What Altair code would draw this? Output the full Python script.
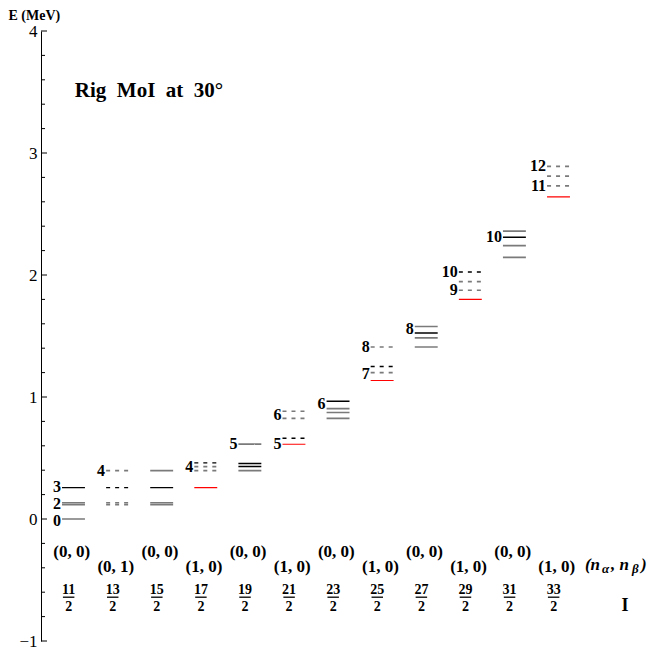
import altair as alt
import pandas as pd

# ---------------- data ----------------
spin_num = [11, 13, 15, 17, 19, 21, 23, 25, 27, 29, 31, 33]
n_labels = ["(0, 0)", "(0, 1)", "(0, 0)", "(1, 0)", "(0, 0)", "(1, 0)",
            "(0, 0)", "(1, 0)", "(0, 0)", "(1, 0)", "(0, 0)", "(1, 0)"]

# energy levels (MeV) per column and their colour kind
level_E = [
    [0.0, 0.118, 0.133, 0.257],
    [0.118, 0.133, 0.257, 0.397],
    [0.118, 0.133, 0.257, 0.397],
    [0.257, 0.397, 0.43, 0.46],
    [0.397, 0.43, 0.455, 0.613],
    [0.613, 0.662, 0.824, 0.883],
    [0.824, 0.873, 0.905, 0.965],
    [1.135, 1.20, 1.25, 1.41],
    [1.41, 1.485, 1.525, 1.578],
    [1.80, 1.875, 1.945, 2.025],
    [2.145, 2.24, 2.31, 2.36],
    [2.64, 2.73, 2.81, 2.89],
]
level_kind = [
    ["gray", "gray", "gray", "black"],
    ["gray", "gray", "black", "gray"],
    ["gray", "gray", "black", "gray"],
    ["red", "gray", "gray", "black"],
    ["gray", "black", "black", "gray"],
    ["red", "black", "gray", "gray"],
    ["gray", "gray", "gray", "black"],
    ["red", "gray", "black", "gray"],
    ["gray", "gray", "black", "gray"],
    ["red", "gray", "gray", "black"],
    ["gray", "gray", "black", "gray"],
    ["red", "gray", "gray", "gray"],
]

# level labels: (column, energy, text)
lab_col = [1, 1, 1, 2, 4, 5, 6, 6, 7, 8, 8, 9, 10, 10, 11, 12, 12]
lab_E = [-0.015, 0.12, 0.262, 0.39, 0.43, 0.613, 0.613, 0.85, 0.94, 1.19, 1.41,
         1.56, 1.875, 2.025, 2.31, 2.73, 2.89]
lab_txt = ["0", "2", "3", "4", "4", "5", "5", "6", "6", "7", "8", "8", "9", "10",
           "10", "11", "12"]

y_major = [-1, 0, 1, 2, 3, 4]
y_minor = [round(-1 + 0.2 * k, 1) for k in range(26) if k % 5 != 0]

FONT = "Liberation Serif"
HALF = 0.26  # half width of a level line in column units

# ---------------- tables ----------------
rows = []
order = {"gray": 0, "black": 1, "red": 2}
for i, (Es, ks) in enumerate(zip(level_E, level_kind), start=1):
    band = n_labels[i - 1]
    for E, k in zip(Es, ks):
        style = "solid" if (band == "(0, 0)" or k == "red") else "dashed"
        rows.append({"x": i - HALF, "x2": i + HALF, "E": E, "kind": k,
                     "style": style, "o": order[k]})
levels = pd.DataFrame(rows).sort_values("o", kind="stable")

labels = pd.DataFrame({"x": [c - HALF for c in lab_col], "E": lab_E, "t": lab_txt})

cols = list(range(1, 13))
nlab = pd.DataFrame({"x": [c - 0.04 for c in cols],
                     "E": [-0.27 if n == "(0, 0)" else -0.39 for n in n_labels],
                     "t": n_labels})
num = pd.DataFrame({"x": [c - 0.11 for c in cols], "E": [-0.585] * 12,
                    "t": [str(s) for s in spin_num]})
den = pd.DataFrame({"x": [c - 0.11 for c in cols], "E": [-0.722] * 12,
                    "t": ["2"] * 12})
bars = pd.DataFrame({"x": [c - 0.24 for c in cols], "x2": [c + 0.02 for c in cols],
                     "E": [-0.641] * 12})

ticks_major = pd.DataFrame({"E": y_major})
ticks_minor = pd.DataFrame({"E": y_minor})

# ---------------- scales ----------------
xscale = alt.Scale(domain=[0.263, 13.871], nice=False, zero=False)
yscale = alt.Scale(domain=[-1, 4], nice=False, zero=False)
yaxis = alt.Axis(values=y_major, ticks=False, grid=False, domainColor="black",
                 domainWidth=1, labelFont=FONT, labelFontSize=17,
                 labelColor="black", labelPadding=4,
                 labelExpr="datum.value < 0 ? '\u2212' + abs(datum.value) : datum.label",
                 title="E (MeV)", titleAngle=0, titleAlign="left",
                 titleBaseline="top", titleX=-33, titleY=-23, titleFont=FONT,
                 titleFontSize=14, titleFontWeight="bold", titleColor="black")

X = alt.X("x:Q", scale=xscale, axis=None)
Y = alt.Y("E:Q", scale=yscale, axis=yaxis)

lines = alt.Chart(levels).mark_rule().encode(
    x=X, x2="x2:Q", y=Y,
    color=alt.Color("kind:N", scale=alt.Scale(domain=["gray", "black", "red"],
                                              range=["#7a7a7a", "#000000", "#ff0000"]),
                    legend=None),
    strokeWidth=alt.StrokeWidth("kind:N", scale=alt.Scale(domain=["gray", "black", "red"],
                                                          range=[1.7, 1.1, 1.4]),
                                legend=None),
    strokeDash=alt.StrokeDash("style:N", scale=alt.Scale(domain=["solid", "dashed"],
                                                         range=[[1, 0], [4, 5]]),
                              legend=None),
)

lvl_text = alt.Chart(labels).mark_text(align="right", baseline="middle", font=FONT,
                                       fontSize=16, fontWeight="bold", dx=-1,
                                       color="black").encode(x=X, y=Y, text="t:N")

n_text = alt.Chart(nlab).mark_text(align="center", baseline="middle", font=FONT,
                                   fontSize=17, fontWeight="bold",
                                   color="black").encode(x=X, y=Y, text="t:N")
num_text = alt.Chart(num).mark_text(align="center", baseline="middle", font=FONT,
                                    fontSize=14, fontWeight="bold",
                                    color="black").encode(x=X, y=Y, text="t:N")
den_text = alt.Chart(den).mark_text(align="center", baseline="middle", font=FONT,
                                    fontSize=14, fontWeight="bold",
                                    color="black").encode(x=X, y=Y, text="t:N")
bar_rule = alt.Chart(bars).mark_rule(color="black", strokeWidth=1.3).encode(
    x=X, x2="x2:Q", y=Y)

tick_maj = alt.Chart(ticks_major).mark_rule(color="black", strokeWidth=1).encode(
    y=Y, x=alt.value(0), x2=alt.value(6))
tick_min = alt.Chart(ticks_minor).mark_rule(color="black", strokeWidth=1).encode(
    y=Y, x=alt.value(0), x2=alt.value(4))

title_df = pd.DataFrame({"x": [1.03], "E": [3.51],
                         "t": ["Rig\u2002MoI\u2002at\u200230\u00b0"]})
title_text = alt.Chart(title_df).mark_text(align="left", baseline="middle", font=FONT,
                                           fontSize=21, fontWeight="bold",
                                           color="black").encode(x=X, y=Y, text="t:N")

i_df = pd.DataFrame({"x": [13.51], "E": [-0.717], "t": ["I"]})
i_text = alt.Chart(i_df).mark_text(align="center", baseline="middle", font=FONT,
                                   fontSize=18, fontWeight="bold",
                                   color="black").encode(x=X, y=Y, text="t:N")

na_df = pd.DataFrame({"x": [12.60], "E": [-0.376]})
pieces = [("(n", 0, 0, 17), ("\u03b1", 17, 4, 13), (", n", 26, 0, 17),
          ("\u03b2", 47, 4, 13), (")", 56, 0, 17)]
na_layers = []
for txt, dx, dy, fs in pieces:
    na_layers.append(
        alt.Chart(na_df).mark_text(align="left", baseline="middle", font=FONT,
                                   fontSize=fs, fontWeight="bold", fontStyle="italic",
                                   dx=dx, dy=dy, color="black", text=txt)
        .encode(x=X, y=Y))

chart = alt.layer(lines, tick_maj, tick_min, lvl_text, n_text, num_text, den_text,
                  bar_rule, title_text, i_text, *na_layers).properties(
    width=600, height=610,
    padding={"left": 33, "top": 23, "right": 6, "bottom": 8},
    autosize=alt.AutoSizeParams(type="none"),
).configure(background="white", view=alt.ViewConfig(stroke=None))

chart.save("out.html", embed_options={"renderer": "svg", "actions": False})
